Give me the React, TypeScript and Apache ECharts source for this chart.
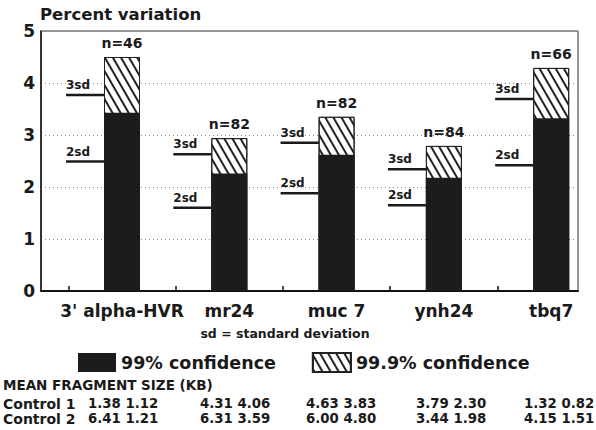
import React, { useEffect, useRef } from "react";
import * as echarts from "echarts";

const categories = ["3' alpha-HVR", "mr24", "muc 7", "ynh24", "tbq7"];
const conf99 = [3.43, 2.26, 2.62, 2.18, 3.32];
const conf999 = [4.5, 2.94, 3.35, 2.79, 4.29];
const sd3 = [3.77, 2.63, 2.85, 2.34, 3.69];
const sd2 = [2.49, 1.6, 1.88, 1.65, 2.42];
const nCounts = [46, 82, 82, 84, 66];
const yTicks = [0, 1, 2, 3, 4, 5];
const control1 = [
  [1.38, 1.12],
  [4.31, 4.06],
  [4.63, 3.83],
  [3.79, 2.3],
  [1.32, 0.82],
];
const control2 = [
  [6.41, 1.21],
  [6.31, 3.59],
  [6.0, 4.8],
  [3.44, 1.98],
  [4.15, 1.51],
];

const FONT = "DejaVu Sans";
const INK = "#1a1a1a";

export default function App() {
  const ref = useRef<HTMLDivElement>(null);
  useEffect(() => {
    if (!ref.current) return;
    const chart = echarts.init(ref.current, null, { renderer: "svg" });
    const colX = [88, 200, 306, 416, 524];
    const tableTexts: any[] = [];
    tableTexts.push({
      type: "text",
      left: 3,
      top: 378,
      style: { text: "MEAN FRAGMENT SIZE (KB)", fontSize: 13.5, fontWeight: "bold", fontFamily: FONT, fill: INK },
    });
    [
      ["Control 1", control1, 397],
      ["Control 2", control2, 412],
    ].forEach(([label, rows, y]: any) => {
      tableTexts.push({
        type: "text",
        left: 3,
        top: y,
        style: { text: label, fontSize: 14, fontWeight: "bold", fontFamily: FONT, fill: INK },
      });
      rows.forEach((pair: number[], i: number) => {
        tableTexts.push({
          type: "text",
          left: colX[i],
          top: y,
          style: {
            text: pair.map((v) => v.toFixed(2)).join(" "),
            fontSize: 13.3,
            fontWeight: "bold",
            fontFamily: FONT,
            fill: INK,
          },
        });
      });
    });

    chart.setOption({
      animation: false,
      backgroundColor: "#fff",
      grid: {
        left: 41,
        right: 18,
        top: 31,
        bottom: 139,
        show: true,
        borderColor: "#333",
        borderWidth: 1,
        containLabel: false,
      },
      legend: {
        left: 78,
        top: 352,
        padding: 0,
        itemWidth: 38,
        itemHeight: 19,
        itemGap: 36,
        icon: "rect",
        data: ["99% confidence", "99.9% confidence"],
        textStyle: { fontSize: 17.5, fontWeight: "bold", fontFamily: FONT, color: INK },
      },
      xAxis: {
        type: "value",
        min: -0.755,
        max: 4.25,
        axisLine: { show: true, onZero: false, lineStyle: { color: "#111", width: 2 } },
        axisTick: {
          show: true,
          inside: true,
          length: 5,
          customValues: [-0.5, 0.5, 1.5, 2.5, 3.5],
          lineStyle: { color: "#111", width: 1.5 },
        },
        axisLabel: {
          customValues: [0, 1, 2, 3, 4],
          formatter: (v: number) => categories[Math.round(v)] ?? "",
          fontSize: 17,
          fontWeight: "bold",
          fontFamily: FONT,
          color: INK,
          margin: 11,
        },
        splitLine: { show: false },
      },
      yAxis: {
        type: "value",
        min: 0,
        max: 5,
        interval: 1,
        axisLine: { show: true, onZero: false, lineStyle: { color: "#111", width: 1.5 } },
        axisTick: { show: false },
        axisLabel: {
          fontSize: 17,
          fontWeight: "bold",
          fontFamily: FONT,
          color: INK,
          margin: 6,
          formatter: (v: number) => (yTicks.includes(v) ? String(v) : ""),
        },
        splitLine: { show: true, lineStyle: { color: "#888", type: [1, 3], width: 1 } },
      },
      graphic: [
        {
          type: "text",
          left: 40,
          top: 6,
          style: { text: "Percent variation", fontSize: 16.5, fontWeight: "bold", fontFamily: FONT, fill: INK },
        },
        {
          type: "text",
          x: 285,
          y: 333,
          style: {
            text: "sd = standard deviation",
            fontSize: 12.5,
            fontWeight: "bold",
            fontFamily: FONT,
            fill: INK,
            align: "center",
            verticalAlign: "middle",
          },
        },
        ...tableTexts,
      ],
      series: [
        {
          name: "99.9% confidence",
          type: "bar",
          barWidth: 36,
          data: conf999.map((v, i) => [i, v]),
          itemStyle: {
            color: "#fff",
            borderColor: "#222",
            borderWidth: 1,
            decal: {
              symbol: "rect",
              symbolSize: 1,
              dashArrayX: [1, 0],
              dashArrayY: [2, 5],
              rotation: Math.PI / 3,
              color: "#222",
              backgroundColor: "#fff",
            },
          },
          label: {
            show: true,
            position: "top",
            distance: 7,
            formatter: (p: any) => "n=" + nCounts[p.dataIndex],
            fontSize: 14,
            fontWeight: "bold",
            fontFamily: FONT,
            color: INK,
          },
        },
        {
          name: "99% confidence",
          type: "bar",
          barWidth: 36,
          barGap: "-100%",
          data: conf99.map((v, i) => [i, v]),
          itemStyle: { color: "#1c1c1c" },
        },
        {
          type: "custom",
          data: categories.map((_, i) => [i, sd3[i], sd2[i]]),
          renderItem: (params: any, api: any) => {
            const i = api.value(0);
            const s3 = api.value(1);
            const s2 = api.value(2);
            const a3 = api.coord([i - 0.522, s3]);
            const b3 = api.coord([i + 0.168, s3]);
            const a2 = api.coord([i - 0.522, s2]);
            const b2 = api.coord([i - 0.168, s2]);
            const txt = (t: string, p: number[]) => ({
              type: "text",
              x: p[0],
              y: p[1] - 4,
              style: {
                text: t,
                fontSize: 12,
                fontWeight: "bold",
                fontFamily: FONT,
                fill: INK,
                align: "left",
                verticalAlign: "bottom",
              },
            });
            return {
              type: "group",
              children: [
                { type: "line", shape: { x1: a3[0], y1: a3[1], x2: b3[0], y2: b3[1] }, style: { stroke: INK, lineWidth: 2.5 } },
                { type: "line", shape: { x1: a2[0], y1: a2[1], x2: b2[0], y2: b2[1] }, style: { stroke: INK, lineWidth: 2.5 } },
                txt("3sd", a3),
                txt("2sd", a2),
              ],
            };
          },
        },
      ],
    });
    return () => chart.dispose();
  }, []);
  return <div ref={ref} style={{ width: 596, height: 430, position: "absolute", left: 0, top: 0 }} />;
}
